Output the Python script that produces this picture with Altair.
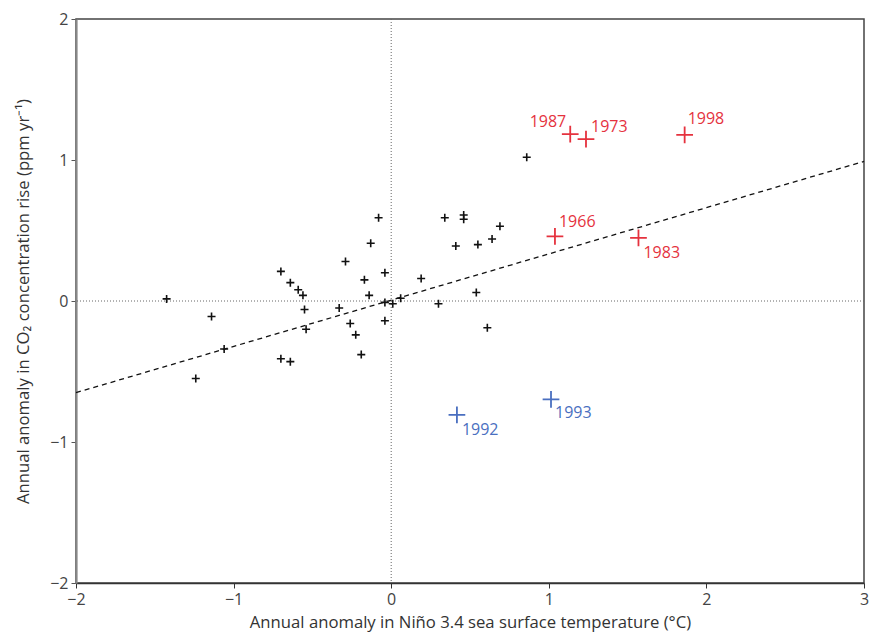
import altair as alt
import pandas as pd

# Black (other years) points
bx = [-1.425, -1.14, -1.24, -1.06, -0.70, -0.64, -0.59, -0.56, -0.55, -0.54,
      -0.70, -0.64, -0.29, -0.13, -0.08, -0.17, -0.14, -0.33, -0.26, -0.225,
      -0.19, -0.04, -0.04, -0.04, 0.01, 0.06, 0.19, 0.30, 0.34, 0.41,
      0.46, 0.46, 0.55, 0.64, 0.69, 0.54, 0.61, 0.86]
by = [0.015, -0.11, -0.55, -0.34, 0.21, 0.13, 0.08, 0.04, -0.06, -0.20,
      -0.41, -0.43, 0.28, 0.41, 0.59, 0.15, 0.04, -0.05, -0.16, -0.24,
      -0.38, 0.20, -0.01, -0.14, -0.02, 0.02, 0.16, -0.02, 0.59, 0.39,
      0.61, 0.58, 0.40, 0.44, 0.53, 0.06, -0.19, 1.02]

# Highlighted El Niño years (red)
red_years = ["1987", "1973", "1998", "1966", "1983"]
red_x = [1.136, 1.236, 1.862, 1.039, 1.569]
red_y = [1.183, 1.148, 1.178, 0.458, 0.448]

# Highlighted volcanic years (blue)
blue_years = ["1992", "1993"]
blue_x = [0.417, 1.014]
blue_y = [-0.808, -0.697]

# Regression line end points
fit_x = [-2, 3]
fit_y = [-0.65, 0.99]

# Tick values
x_ticks = [-2, -1, 0, 1, 2, 3]
y_ticks = [-2, -1, 0, 1, 2]

RED = "#e5323e"
BLUE = "#4a6fc0"
CROSS = "M-1,0L1,0M0,-1L0,1"

xs = alt.Scale(domain=[-2, 3], nice=False)
ys = alt.Scale(domain=[-2, 2], nice=False)

xax = alt.Axis(values=x_ticks, format="d", labelFlush=False,
               title="Annual anomaly in Niño 3.4 sea surface temperature (°C)",
               domainColor="#333", domainWidth=1.5, tickColor="#333", titlePadding=7)
yax = alt.Axis(values=y_ticks, format="d",
               title="Annual anomaly in CO₂ concentration rise (ppm yr⁻¹)",
               domainColor="#888", domainWidth=2.2, tickColor="#555", titlePadding=17)

black = pd.DataFrame({"x": bx, "y": by})
red = pd.DataFrame({"x": red_x, "y": red_y, "year": red_years})
blue = pd.DataFrame({"x": blue_x, "y": blue_y, "year": blue_years})
fit = pd.DataFrame({"x": fit_x, "y": fit_y})
zero = pd.DataFrame({"v": [0]})

base_pts = alt.Chart(black).mark_point(shape=CROSS, filled=False, size=64, strokeWidth=1.6, color="#111", opacity=1).encode(
    x=alt.X("x:Q", scale=xs, axis=xax),
    y=alt.Y("y:Q", scale=ys, axis=yax),
)

vline = alt.Chart(zero).mark_rule(strokeDash=[1, 2], color="#666", strokeWidth=1).encode(x=alt.X("v:Q", scale=xs))
hline = alt.Chart(zero).mark_rule(strokeDash=[1, 2], color="#666", strokeWidth=1).encode(y=alt.Y("v:Q", scale=ys))

fit_line = alt.Chart(fit).mark_line(strokeDash=[5, 4], color="#111", strokeWidth=1.3).encode(
    x=alt.X("x:Q", scale=xs), y=alt.Y("y:Q", scale=ys))

red_pts = alt.Chart(red).mark_point(shape=CROSS, filled=False, size=280, strokeWidth=1.8, color=RED, opacity=1).encode(
    x=alt.X("x:Q", scale=xs), y=alt.Y("y:Q", scale=ys))
blue_pts = alt.Chart(blue).mark_point(shape=CROSS, filled=False, size=280, strokeWidth=1.8, color=BLUE, opacity=1).encode(
    x=alt.X("x:Q", scale=xs), y=alt.Y("y:Q", scale=ys))

def lab(df, years, color, align, dx, dy):
    return alt.Chart(df).transform_filter(
        alt.FieldOneOfPredicate(field="year", oneOf=years)
    ).mark_text(align=align, baseline="middle", dx=dx, dy=dy, fontSize=16, color=color, font="Open Sans").encode(
        x=alt.X("x:Q", scale=xs), y=alt.Y("y:Q", scale=ys), text="year:N")

labels = [
    lab(red, ["1987"], RED, "right", -4, -12),
    lab(red, ["1973"], RED, "left", 5, -12),
    lab(red, ["1998"], RED, "left", 3, -16),
    lab(red, ["1966"], RED, "left", 4, -14),
    lab(red, ["1983"], RED, "left", 5, 15),
    lab(blue, ["1992"], BLUE, "left", 5, 15),
    lab(blue, ["1993"], BLUE, "left", 4, 14),
]

chart = alt.layer(vline, hline, fit_line, base_pts, red_pts, blue_pts, *labels).properties(
    width=788, height=564,
    padding={"left": 68, "top": 11, "right": 6, "bottom": 51},
    autosize=alt.AutoSizeParams(type="none"),
).configure_view(
    stroke="#444", strokeWidth=1.5
).configure_axis(
    grid=False, tickSize=5, labelFontSize=16, labelColor="#444", labelFont="Open Sans",
    titleFont="Open Sans", titleFontSize=16.7, titleFontWeight="normal", titleColor="#333",
    labelPadding=3,
)

chart.save("out.html", embed_options={"renderer": "svg", "actions": False})
